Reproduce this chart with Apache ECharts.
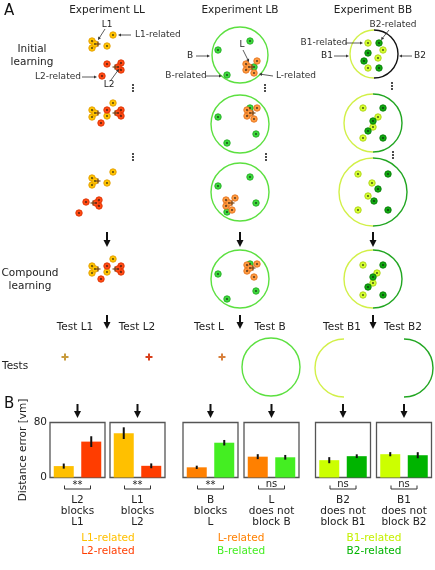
<!DOCTYPE html>
<html><head><meta charset="utf-8">
<script src="https://cdn.jsdelivr.net/npm/echarts@6/dist/echarts.min.js"></script>
<style>html,body{margin:0;padding:0;background:#fff}#c{width:435px;height:570px}</style>
</head><body><div id="c"></div>
<script>
// ---------------- Panel B data ----------------
const panelLabels = ['L2\nblocks\nL1','L1\nblocks\nL2','B\nblocks\nL','L\ndoes not\nblock B','B2\ndoes not\nblock B1','B1\ndoes not\nblock B2'];
const significance = ['**','**','**','ns','ns','ns'];
const categories = [['L1-related','L2-related'],['L1-related','L2-related'],['L-related','B-related'],['L-related','B-related'],['B1-related','B2-related'],['B1-related','B2-related']];
const meanError = [[16.6,52.2],[64.5,17],[14.8,50.6],[30.3,29.4],[25.2,31],[33.9,32.4]];
const semError  = [[3.7,7.8],[8.5,3.5],[2.4,4],[3.6,3.4],[4.4,2.7],[3,4.4]];
const yTicks = [0,80];
const yAxisName = 'Distance error [vm]';
const legendGroups = [['L1-related','L2-related'],['L-related','B-related'],['B1-related','B2-related']];

// ---------------- Panel A diagram data ----------------
const llYellow = [[113,35],[107,46],[92,41],[92,48],[95,44],[113,103],[92,110],[92,117],[95,113],[107,116],[113,172],[107,183],[92,178],[92,185],[95,181],[113,259],[92,266],[92,273],[95,269],[107,272]];
const llRed = [[107,64],[102,76],[121,63],[121,70],[118,67],[121,110],[121,116],[118,113],[107,110],[101,123],[86,202],[79,213],[99,200],[99,206],[96,203],[121,266],[121,272],[118,269],[107,266],[101,279]];
const llCross = [[98,44],[115,67],[98,113],[115,113],[98,181],[93,203],[98,269],[115,269]];
const lbGreen = [[250,41],[218,50],[227,75],[254,67],[250,108],[218,117],[256,134],[227,143],[250,177],[218,186],[256,203],[227,212],[250,264],[218,274],[256,291],[227,299]];
const lbOrange = [[246,64],[246,70],[249,67],[257,61],[254,73],[247,110],[247,116],[250,113],[257,108],[254,119],[226,200],[226,206],[229,203],[235,198],[232,210],[247,265],[247,271],[250,268],[257,264],[254,277]];
const lbCross = [[252,67],[253,113],[232,203],[253,268]];
const lbRings = [[240,55,28],[240,124,29],[240,192,29],[240,279,29],[271,367,29]];
const bbLight = [[368,43],[383,50],[378,58],[368,68],[363,108],[378,117],[373,127],[363,138],[358,174],[372,183],[368,196],[358,210],[363,265],[377,273],[373,283],[363,295]];
const bbDark = [[379,43],[368,53],[364,61],[379,68],[383,108],[373,121],[368,131],[383,138],[388,174],[378,189],[374,201],[388,210],[383,265],[373,277],[368,287],[383,295]];
const bbLeftArcs = [[374,54,24],[373,123,29],[373,192,34],[373,279,29],[344,368,29]];
const bbRightDarkArcs = [[373,123,29],[373,192,34],[373,279,29],[404,368,29]];
const bbRightBlackArcs = [[374,54,24]];
const testL1Cross = [[65,357]];
const testL2Cross = [[149,357]];
const testLCross = [[222,357]];

// ---------------- styles / layout ----------------
const FONT = '"DejaVu Sans", Verdana, sans-serif';
const C = {L1:'#FFC000', L2:'#FF3D00', L:'#FF8000', B:'#44EE22', B1:'#CCFF00', B2:'#00B400'};
const barColors = [[C.L1,C.L2],[C.L1,C.L2],[C.L,C.B],[C.L,C.B],[C.B1,C.B2],[C.B1,C.B2]];
const legendColors = [[C.L1,C.L2],[C.L,C.B],['#C4F000',C.B2]];
const gridLefts = [50,110,183,244,315.5,376.5];
const gridW = 55, gridTop = 422.5, gridH = 55;

const chart = echarts.init(document.getElementById('c'));

const grids = [{left:0,right:0,top:0,bottom:0,show:false}];
const xAxes = [{type:'value',min:0,max:435,show:false,gridIndex:0}];
const yAxes = [{type:'value',min:0,max:570,inverse:true,show:false,gridIndex:0}];
const series = [];

function dotSeries(pts, fill, border){
  return {type:'scatter',xAxisIndex:0,yAxisIndex:0,data:pts,symbolSize:6.5,clip:false,silent:true,z:3,
    itemStyle:{color:fill,borderColor:border,borderWidth:0.8,opacity:1}};
}
function arcSeries(arcs, color, start, end, lw){
  return {type:'custom',xAxisIndex:0,yAxisIndex:0,data:arcs,clip:false,silent:true,z:2,
    renderItem:function(params, api){
      const c = api.coord([api.value(0), api.value(1)]);
      const r = api.size([api.value(2), 0])[0];
      return {type:'arc',shape:{cx:c[0],cy:c[1],r:r,startAngle:start,endAngle:end,clockwise:true},
        style:{stroke:color,fill:null,lineWidth:lw}};
    }};
}
function crossSeries(pts, color, arm, lw, z){
  return {type:'custom',xAxisIndex:0,yAxisIndex:0,data:pts,clip:false,silent:true,z:z,
    renderItem:function(params, api){
      const c = api.coord([api.value(0), api.value(1)]);
      return {type:'group',children:[
        {type:'line',shape:{x1:c[0]-arm,y1:c[1],x2:c[0]+arm,y2:c[1]},style:{stroke:color,lineWidth:lw}},
        {type:'line',shape:{x1:c[0],y1:c[1]-arm,x2:c[0],y2:c[1]+arm},style:{stroke:color,lineWidth:lw}}
      ]};
    }};
}
const PI = Math.PI;
series.push(arcSeries(lbRings, '#5CE040', 0, 2*PI, 1.4));
series.push(arcSeries(bbLeftArcs, '#D2F048', PI/2, 3*PI/2, 1.4));
series.push(arcSeries(bbRightDarkArcs, '#22A622', -PI/2, PI/2, 1.4));
series.push(arcSeries(bbRightBlackArcs, '#111', -PI/2, PI/2, 1.4));
series.push(dotSeries(llYellow, '#FFC400', '#E09800'));
series.push(dotSeries(llRed, '#FF4A14', '#D83000'));
series.push(dotSeries(lbGreen, '#3CD83C', '#22A822'));
series.push(dotSeries(lbOrange, '#FF9A40', '#E0701C'));
series.push(dotSeries(bbLight, '#D4FF30', '#A8CC10'));
series.push(dotSeries(bbDark, '#10A810', '#067806'));
series.push({type:'scatter',xAxisIndex:0,yAxisIndex:0,silent:true,clip:false,z:4,symbolSize:1.8,
  data:[].concat(llYellow,llRed,lbGreen,lbOrange,bbLight,bbDark),itemStyle:{color:'#111'}});
series.push(crossSeries(llCross.concat(lbCross), '#7A4A1E', 2.5, 1.2, 5));
series.push(crossSeries(testL1Cross, '#C89B3C', 3.5, 2, 5));
series.push(crossSeries(testL2Cross, '#D8401C', 3.5, 2, 5));
series.push(crossSeries(testLCross, '#D8803C', 3.5, 2, 5));

for (let i = 0; i < 6; i++) {
  const gi = i + 1;
  grids.push({left:gridLefts[i],top:gridTop,width:gridW,height:gridH,show:true,borderColor:'#555',borderWidth:1.3,backgroundColor:'transparent'});
  xAxes.push({type:'category',gridIndex:gi,data:categories[i],axisLabel:{show:false},axisTick:{show:false},axisLine:{show:false}});
  yAxes.push({type:'value',gridIndex:gi,min:yTicks[0],max:yTicks[1],interval:yTicks[1]-yTicks[0],
    axisLine:{show:false},axisTick:{show:false},splitLine:{show:false},
    axisLabel:{show:i===0,fontSize:10.5,color:'#222',fontFamily:FONT,margin:3},
    name:i===0?yAxisName:'',nameLocation:'middle',nameGap:21,nameRotate:90,
    nameTextStyle:{fontSize:10.5,color:'#222',fontFamily:FONT}});
  series.push({type:'bar',xAxisIndex:gi,yAxisIndex:gi,barWidth:20,silent:true,
    data:meanError[i].map((v,j)=>({value:v,itemStyle:{color:barColors[i][j]}}))});
  series.push({type:'custom',xAxisIndex:gi,yAxisIndex:gi,silent:true,z:5,
    data:meanError[i].map((v,j)=>[j,v,semError[i][j]]),
    renderItem:function(params, api){
      const x = api.value(0), m = api.value(1), e = api.value(2);
      const p1 = api.coord([x, m - e]), p2 = api.coord([x, m + e]);
      return {type:'line',shape:{x1:p1[0],y1:p1[1],x2:p2[0],y2:p2[1]},style:{stroke:'#111',lineWidth:2}};
    }});
}

// ---------------- graphic annotations ----------------
const G = [];
function txt(x,y,t,o){ o=o||{};
  G.push({type:'text',x:x,y:y,silent:true,z:10,style:{text:t,font:(o.size||10)+'px '+FONT,fill:o.color||'#222',
    align:o.align||'center',textAlign:o.align||'center',verticalAlign:'middle',textVerticalAlign:'middle',lineHeight:o.lh||11}});
}
function arrow(x1,y1,x2,y2,o){ o=o||{};
  const col=o.color||'#111', lw=o.lw||1, hl=o.hl||4, hw=o.hw||2;
  const a=Math.atan2(y2-y1,x2-x1), ca=Math.cos(a), sa=Math.sin(a);
  const bx=x2-hl*ca, by=y2-hl*sa;
  G.push({type:'line',silent:true,z:10,shape:{x1:x1,y1:y1,x2:bx+0.5*ca,y2:by+0.5*sa},style:{stroke:col,lineWidth:lw}});
  G.push({type:'polygon',silent:true,z:10,shape:{points:[[x2,y2],[bx-hw*sa,by+hw*ca],[bx+hw*sa,by-hw*ca]]},style:{fill:col}});
}
function vdots(x,y){ [-3,0,3].forEach(d=>G.push({type:'circle',silent:true,z:10,shape:{cx:x,cy:y+d,r:1},style:{fill:'#111'}})); }
const small = {color:'#333',lw:0.8,hl:3,hw:1.6};

txt(4,11,'A',{size:15,align:'left',color:'#111'});
txt(4,404,'B',{size:15,align:'left',color:'#111'});
txt(107,10,'Experiment LL',{size:10.5});
txt(240,10,'Experiment LB',{size:10.5});
txt(373,10,'Experiment BB',{size:10.5});
txt(32,56,'Initial\nlearning',{size:10.5,lh:12.5});
txt(30,280,'Compound\nlearning',{size:10.5,lh:12.5});
txt(2,366,'Tests',{size:10.5,align:'left'});
// LL labels
txt(107,25,'L1',{size:9}); arrow(105,29,98,40,small);
arrow(131,35,118,35,small); txt(135,35,'L1-related',{size:9,align:'left',color:'#333'});
txt(58,77,'L2-related',{size:9,color:'#333'}); arrow(82,77,97,77,small);
txt(109,85,'L2',{size:9}); arrow(111,80,119,69,small);
// LB labels
txt(190,56,'B',{size:9}); arrow(196,56,210,56,small);
txt(186,76,'B-related',{size:9,color:'#333'}); arrow(206,76,222,76,small);
txt(242,45,'L',{size:9}); arrow(243,50,249,62,small);
arrow(273,76,259,74,small); txt(276,76,'L-related',{size:9,align:'left',color:'#333'});
// BB labels
txt(393,25,'B2-related',{size:9,color:'#333'}); arrow(389,30,381,40,small);
txt(324,43,'B1-related',{size:9,color:'#333'}); arrow(345,43,363,43,small);
txt(327,56,'B1',{size:9}); arrow(334,56,349,56,small);
txt(420,56,'B2',{size:9}); arrow(412,56,399,56,small);
// ellipses
vdots(133,88); vdots(133,157); vdots(265,88); vdots(266,157); vdots(392,86); vdots(393,155);
// flow arrows
[107,240,373].forEach(x=>{ arrow(x,232,x,247,{lw:2,hl:7,hw:3.5}); arrow(x,315,x,329,{lw:2,hl:7,hw:3.5}); });
txt(75,327,'Test L1',{size:10.5}); txt(137,327,'Test L2',{size:10.5});
txt(209,327,'Test L',{size:10.5}); txt(270,327,'Test B',{size:10.5});
txt(342,327,'Test B1',{size:10.5}); txt(403,327,'Test B2',{size:10.5});
// panel B annotations
for (let i = 0; i < 6; i++) {
  const cx = gridLefts[i] + gridW/2;
  arrow(cx,404,cx,418,{lw:2,hl:7,hw:3.5});
  G.push({type:'polyline',silent:true,z:10,shape:{points:[[cx-13,485.5],[cx-13,489],[cx+13,489],[cx+13,485.5]]},style:{stroke:'#333',lineWidth:1,fill:null}});
  txt(cx, significance[i]==='**'?485:484.5, significance[i], {size:10});
  txt(cx, 511, panelLabels[i], {size:10.5, lh:11});
}
const legendCenters = [108,241,374];
legendGroups.forEach((g,k)=>{ txt(legendCenters[k],538,g[0],{size:10.5,color:legendColors[k][0]}); txt(legendCenters[k],551,g[1],{size:10.5,color:legendColors[k][1]}); });

chart.setOption({animation:false,backgroundColor:'#fff',grid:grids,xAxis:xAxes,yAxis:yAxes,series:series,graphic:{elements:G}});
</script></body></html>
